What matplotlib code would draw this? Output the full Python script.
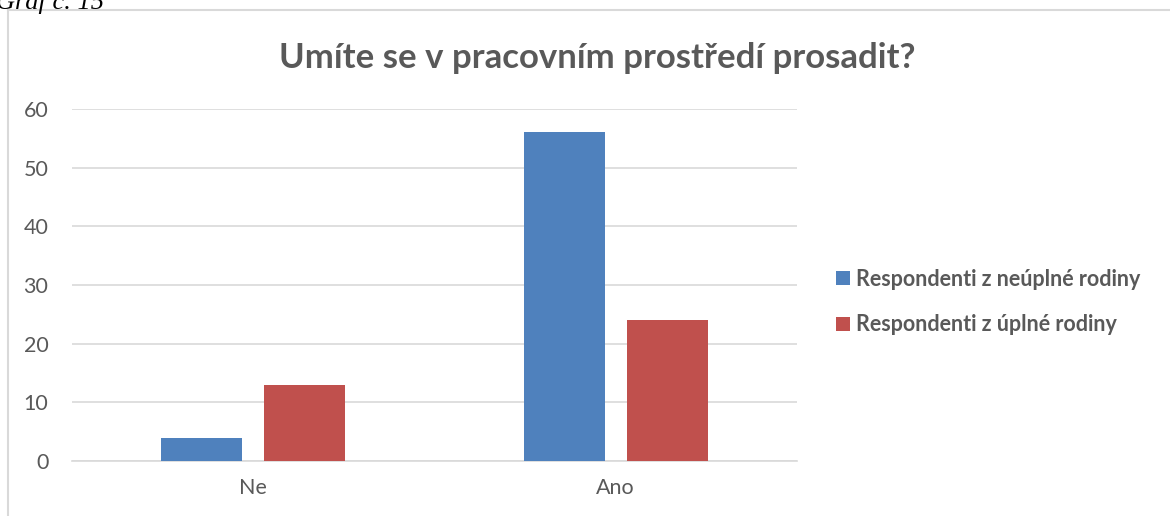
import matplotlib.pyplot as plt
import numpy as np

categories = ['Ne', 'Ano']
neuplna = [4, 56]
uplna = [13, 24]
series_labels = ['Respondenti z neúplné rodiny', 'Respondenti z úplné rodiny']
yticks = [0, 10, 20, 30, 40, 50, 60]

plt.rcParams['font.family'] = ['Lato', 'DejaVu Sans']
gray = '#595959'
grid_c = '#d9d9d9'

fig = plt.figure(figsize=(11.7, 5.16), dpi=100)
ax = fig.add_axes([72 / 1170, 1 - 461 / 516, 725 / 1170, 352 / 516])

x = np.arange(len(categories))
w = 0.223
off = 0.142
ax.bar(x - off, neuplna, w, color='#4f81bd', label=series_labels[0], zorder=3)
ax.bar(x + off, uplna, w, color='#c0504d', label=series_labels[1], zorder=3)

ax.set_xlim(-0.5, 1.5)
ax.set_ylim(0, 60)
ax.set_yticks(yticks)
ax.set_xticks(x)
ax.set_xticklabels(categories)
ax.yaxis.grid(True, color=grid_c, lw=1.2, zorder=0)
for s in ['top', 'right', 'left']:
    ax.spines[s].set_visible(False)
ax.spines['bottom'].set_color(grid_c)
ax.spines['bottom'].set_linewidth(1.2)
ax.tick_params(length=0, colors=gray, labelsize=15.5)
ax.tick_params(axis='y', pad=17)
ax.tick_params(axis='x', pad=12)

fig.text(597 / 1170, 1 - 58 / 516, 'Umíte se v pracovním prostředí prosadit?',
         ha='center', va='center', fontsize=25, fontweight='bold', color=gray)

leg = fig.legend(loc='center left', bbox_to_anchor=(836 / 1170, 1 - 302 / 516),
                 frameon=False, handlelength=0.65, handleheight=0.65,
                 handletextpad=0.3, labelspacing=1.15, borderpad=0,
                 borderaxespad=0, prop={'weight': 'bold', 'size': 15.5})
for t in leg.get_texts():
    t.set_color(gray)

# chart border (partly cropped) and caption above it
fig.add_artist(plt.Line2D([8 / 1170, 8 / 1170], [0, 1 - 10 / 516],
                          transform=fig.transFigure, color=grid_c, lw=1.5))
fig.add_artist(plt.Line2D([8 / 1170, 1], [1 - 10 / 516, 1 - 10 / 516],
                          transform=fig.transFigure, color=grid_c, lw=1.5))
fig.text(-4 / 1170, 1 - 9 / 516, 'Graf č. 15', ha='left', va='baseline',
         fontsize=19, style='italic', family='Liberation Serif', color='black')

fig.savefig('out.png', dpi=100)
